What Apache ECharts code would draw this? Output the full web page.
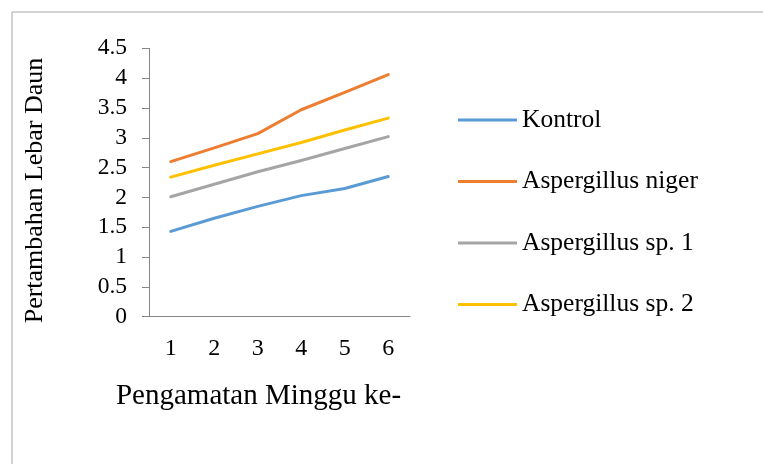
<!DOCTYPE html>
<html>
<head>
<meta charset="utf-8">
<script src="https://cdn.jsdelivr.net/npm/echarts@6/dist/echarts.min.js"></script>
<style>
html,body{margin:0;padding:0;background:#fff;}
#c{width:763px;height:464px;}
</style>
</head>
<body>
<div id="c"></div>
<script>
const categories = ['1', '2', '3', '4', '5', '6'];
const kontrol = [1.43, 1.65, 1.85, 2.03, 2.15, 2.35];
const niger = [2.60, 2.83, 3.07, 3.47, 3.76, 4.06];
const sp1 = [2.01, 2.22, 2.43, 2.62, 2.82, 3.02];
const sp2 = [2.34, 2.54, 2.73, 2.92, 3.13, 3.33];
const seriesNames = ['Kontrol', 'Aspergillus niger', 'Aspergillus sp. 1', 'Aspergillus sp. 2'];
const yTitle = 'Pertambahan Lebar Daun';
const xTitle = 'Pengamatan Minggu ke-';

const colors = ['#5B9BD5', '#ED7D31', '#A5A5A5', '#FFC000'];
const font = 'Liberation Serif';
const chart = echarts.init(document.getElementById('c'), null, {renderer: 'canvas'});
const mk = (name, data, color) => ({
  name, type: 'line', data, symbol: 'none', smooth: false,
  lineStyle: {color, width: 3, cap: 'round', join: 'round'},
  itemStyle: {color}
});
chart.setOption({
  animation: false,
  backgroundColor: '#fff',
  color: colors,
  grid: {left: 149, top: 48.3, width: 261, height: 268.4},
  xAxis: {
    type: 'category', data: categories, boundaryGap: true,
    axisLine: {lineStyle: {color: '#868686', width: 1}},
    axisTick: {show: false},
    axisLabel: {color: '#000', fontFamily: font, fontSize: 24, margin: 20},
    splitLine: {show: false}
  },
  yAxis: {
    type: 'value', min: 0, max: 4.5, interval: 0.5,
    axisLine: {show: true, lineStyle: {color: '#868686', width: 1}},
    axisTick: {show: true, length: 7, lineStyle: {color: '#868686'}},
    axisLabel: {color: '#000', fontFamily: font, fontSize: 23.5, margin: 22},
    splitLine: {show: false}
  },
  legend: {
    orient: 'vertical', left: 458, top: 107, padding: 0,
    icon: 'rect', itemWidth: 59, itemHeight: 3, itemGap: 35.5,
    data: seriesNames,
    textStyle: {color: '#000', fontFamily: font, fontSize: 25.5, lineHeight: 25.5}
  },
  graphic: [
    {type: 'rect', shape: {x: 12, y: 12, width: 900, height: 600},
     style: {fill: 'none', stroke: '#a6a6a6', lineWidth: 1}, silent: true, z: -1},
    {type: 'text', x: 35, y: 190.5, rotation: Math.PI / 2,
     style: {text: yTitle, font: '26px "Liberation Serif", serif', fill: '#000', textAlign: 'center', textVerticalAlign: 'middle'}},
    {type: 'text', x: 258.5, y: 396,
     style: {text: xTitle, font: '29px "Liberation Serif", serif', fill: '#000', textAlign: 'center', textVerticalAlign: 'middle'}}
  ],
  series: [
    mk(seriesNames[0], kontrol, colors[0]),
    mk(seriesNames[1], niger, colors[1]),
    mk(seriesNames[2], sp1, colors[2]),
    mk(seriesNames[3], sp2, colors[3])
  ]
});
</script>
</body>
</html>
